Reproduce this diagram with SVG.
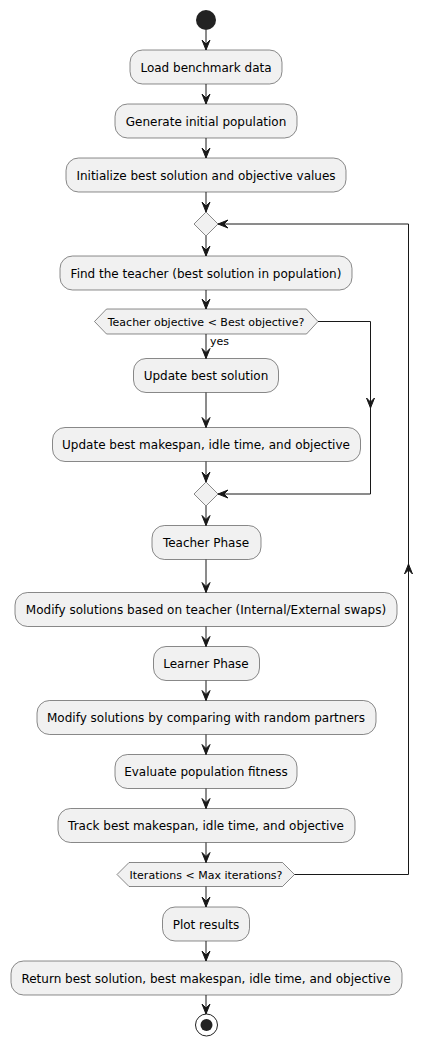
<svg xmlns="http://www.w3.org/2000/svg" width="433" height="1046" viewBox="0 0 433 1046">
<style>
.box{fill:#F1F1F1;stroke:#181818;stroke-width:0.5}
.t{font-family:"DejaVu Sans",sans-serif;font-size:12px;fill:#000;text-anchor:middle}
.ts{font-family:"DejaVu Sans",sans-serif;font-size:11px;fill:#000;text-anchor:middle}
.lbl{font-family:"DejaVu Sans",sans-serif;font-size:11px;fill:#000}
.ln{fill:none;stroke:#181818;stroke-width:1}
.ah{fill:#181818;stroke:#181818;stroke-width:1}
</style>
<rect width="433" height="1046" fill="#FFFFFF"/>
<g id="start"><circle cx="206" cy="20" r="10" fill="#222222"/></g>
<g id="load"><rect class="box" x="130" y="50" width="152" height="34" rx="12.5"/><text class="t" x="206" y="71.5">Load benchmark data</text></g>
<g id="gen"><rect class="box" x="115" y="104" width="182" height="34" rx="12.5"/><text class="t" x="206" y="125.5">Generate initial population</text></g>
<g id="init"><rect class="box" x="66" y="158" width="280" height="34" rx="12.5"/><text class="t" x="206" y="179.5">Initialize best solution and objective values</text></g>
<g id="merge1"><polygon class="box" points="206,212 218,224 206,236 194,224"/></g>
<g id="find"><rect class="box" x="60" y="256" width="292" height="34" rx="12.5"/><text class="t" x="206" y="277.5">Find the teacher (best solution in population)</text></g>
<g id="dec1"><polygon class="box" points="94.5,321.5 106.5,309 306.5,309 318,321.5 306.5,334 106.5,334"/><text class="ts" x="206" y="325.5">Teacher objective &lt; Best objective?</text></g>
<g id="upsol"><rect class="box" x="133.5" y="358.5" width="145" height="34" rx="12.5"/><text class="t" x="206" y="380">Update best solution</text></g>
<g id="upmk"><rect class="box" x="52.5" y="427.5" width="308" height="34" rx="12.5"/><text class="t" x="206" y="449">Update best makespan, idle time, and objective</text></g>
<g id="merge2"><polygon class="box" points="206,482 218,494 206,506 194,494"/></g>
<g id="tphase"><rect class="box" x="152" y="525.5" width="109" height="34" rx="12.5"/><text class="t" x="206" y="547">Teacher Phase</text></g>
<g id="modt"><rect class="box" x="15" y="592.5" width="382" height="34" rx="12.5"/><text class="t" x="206" y="614">Modify solutions based on teacher (Internal/External swaps)</text></g>
<g id="lphase"><rect class="box" x="153.5" y="646.5" width="106" height="34" rx="12.5"/><text class="t" x="206" y="668">Learner Phase</text></g>
<g id="modl"><rect class="box" x="37" y="700.5" width="339" height="34" rx="12.5"/><text class="t" x="206" y="722">Modify solutions by comparing with random partners</text></g>
<g id="eval"><rect class="box" x="115" y="754.5" width="182" height="34" rx="12.5"/><text class="t" x="206" y="776">Evaluate population fitness</text></g>
<g id="track"><rect class="box" x="58" y="808.5" width="297" height="34" rx="12.5"/><text class="t" x="206" y="830">Track best makespan, idle time, and objective</text></g>
<g id="dec2"><polygon class="box" points="117,874.5 129,862.5 282.5,862.5 294.5,874.5 282.5,886.5 129,886.5"/><text class="ts" x="206" y="878.5">Iterations &lt; Max iterations?</text></g>
<g id="plot"><rect class="box" x="162.5" y="907" width="87" height="34" rx="12.5"/><text class="t" x="206" y="928.5">Plot results</text></g>
<g id="ret"><rect class="box" x="11" y="961" width="391" height="34" rx="12.5"/><text class="t" x="206" y="982.5">Return best solution, best makespan, idle time, and objective</text></g>
<g id="end"><circle cx="206.5" cy="1025" r="11" fill="none" stroke="#222222" stroke-width="1"/><circle cx="206.5" cy="1025" r="6" fill="#222222"/></g>
<g id="connectors">
<line class="ln" x1="206" y1="30" x2="206" y2="50"/><polygon class="ah" points="202,40 206,50 210,40 206,44"/>
<line class="ln" x1="206" y1="84" x2="206" y2="104"/><polygon class="ah" points="202,94 206,104 210,94 206,98"/>
<line class="ln" x1="206" y1="138" x2="206" y2="158"/><polygon class="ah" points="202,148 206,158 210,148 206,152"/>
<line class="ln" x1="206" y1="192" x2="206" y2="212"/><polygon class="ah" points="202,202 206,212 210,202 206,206"/>
<line class="ln" x1="206" y1="236" x2="206" y2="256"/><polygon class="ah" points="202,246 206,256 210,246 206,250"/>
<line class="ln" x1="206" y1="290" x2="206" y2="309"/><polygon class="ah" points="202,299 206,309 210,299 206,303"/>
<line class="ln" x1="206" y1="334" x2="206" y2="358.5"/><polygon class="ah" points="202,348.5 206,358.5 210,348.5 206,352.5"/>
<text class="lbl" x="210" y="345">yes</text>
<line class="ln" x1="206" y1="392.5" x2="206" y2="427.5"/><polygon class="ah" points="202,417.5 206,427.5 210,417.5 206,421.5"/>
<line class="ln" x1="206" y1="461.5" x2="206" y2="482"/><polygon class="ah" points="202,472 206,482 210,472 206,476"/>
<polyline class="ln" points="318,321.5 370.5,321.5 370.5,494 218,494"/>
<polygon class="ah" points="366.5,398 370.5,408 374.5,398 370.5,402"/>
<polygon class="ah" points="228,490 218,494 228,498 224,494"/>
<line class="ln" x1="206" y1="506" x2="206" y2="525.5"/><polygon class="ah" points="202,515.5 206,525.5 210,515.5 206,519.5"/>
<line class="ln" x1="206" y1="559.5" x2="206" y2="592.5"/><polygon class="ah" points="202,582.5 206,592.5 210,582.5 206,586.5"/>
<line class="ln" x1="206" y1="626.5" x2="206" y2="646.5"/><polygon class="ah" points="202,636.5 206,646.5 210,636.5 206,640.5"/>
<line class="ln" x1="206" y1="680.5" x2="206" y2="700.5"/><polygon class="ah" points="202,690.5 206,700.5 210,690.5 206,694.5"/>
<line class="ln" x1="206" y1="734.5" x2="206" y2="754.5"/><polygon class="ah" points="202,744.5 206,754.5 210,744.5 206,748.5"/>
<line class="ln" x1="206" y1="788.5" x2="206" y2="808.5"/><polygon class="ah" points="202,798.5 206,808.5 210,798.5 206,802.5"/>
<line class="ln" x1="206" y1="842.5" x2="206" y2="862.5"/><polygon class="ah" points="202,852.5 206,862.5 210,852.5 206,856.5"/>
<polyline class="ln" points="294.5,874.5 408.5,874.5 408.5,224 218,224"/>
<polygon class="ah" points="404.5,574 408.5,564 412.5,574 408.5,570"/>
<polygon class="ah" points="228,220 218,224 228,228 224,224"/>
<line class="ln" x1="206" y1="886.5" x2="206" y2="907"/><polygon class="ah" points="202,897 206,907 210,897 206,901"/>
<line class="ln" x1="206" y1="941" x2="206" y2="961"/><polygon class="ah" points="202,951 206,961 210,951 206,955"/>
<line class="ln" x1="206" y1="995" x2="206" y2="1014"/><polygon class="ah" points="202,1004 206,1014 210,1004 206,1008"/>
</g>
</svg>
